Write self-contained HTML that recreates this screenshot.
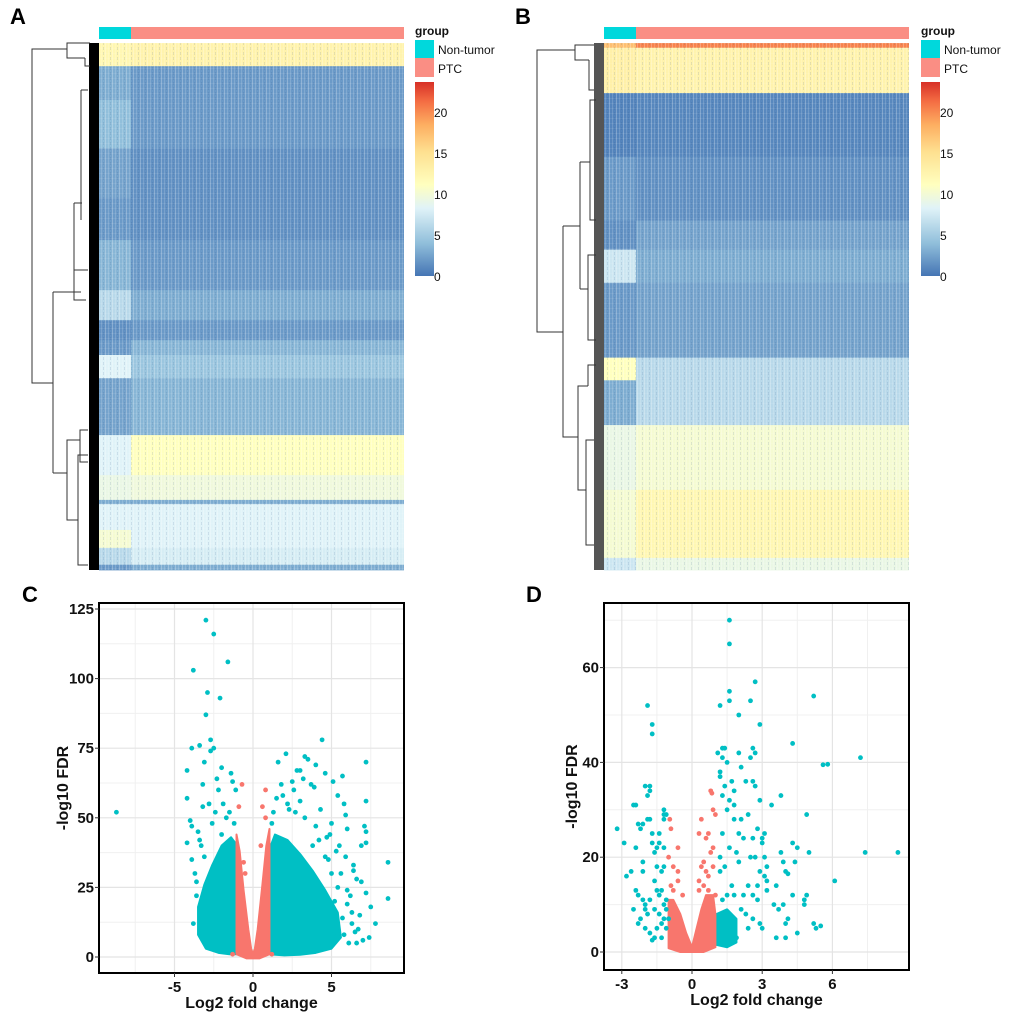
<!DOCTYPE html>
<html><head><meta charset="utf-8">
<style>
html,body{margin:0;padding:0;background:#fff;}
svg{display:block;font-family:"Liberation Sans",Arial,sans-serif;}
</style></head>
<body>
<svg id="fig" width="1020" height="1014" viewBox="0 0 1020 1014" xmlns="http://www.w3.org/2000/svg">
<defs>
<pattern id="tex" width="7" height="5" patternUnits="userSpaceOnUse">
<rect x="0" y="0" width="1" height="5" fill="#fff" opacity="0.25"/>
<rect x="3" y="0" width="1" height="5" fill="#fff" opacity="0.15"/>
<rect x="5" y="2" width="1" height="3" fill="#1a3f80" opacity="0.12"/>
<rect x="0" y="3" width="7" height="1" fill="#fff" opacity="0.08"/>
</pattern>
<linearGradient id="cbar" x1="0" y1="1" x2="0" y2="0">
<stop offset="0" stop-color="#4575b4"/>
<stop offset="0.17" stop-color="#91bfdb"/>
<stop offset="0.35" stop-color="#e0f3f8"/>
<stop offset="0.47" stop-color="#ffffbf"/>
<stop offset="0.64" stop-color="#fee090"/>
<stop offset="0.78" stop-color="#fdae61"/>
<stop offset="0.9" stop-color="#f46d43"/>
<stop offset="1" stop-color="#d73027"/>
</linearGradient>
</defs>
<g id="layer"></g>
</svg>
<script>
// ---------- Heatmap data (row bands, in % of gene rows) ----------
const heatA_bandEnds = [4.4,10.8,20,29.4,37.4,46.9,52.6,56.4,59.2,63.6,74.4,82,86.7,87.5,92.4,95.8,99,100];
const heatA_nonTumor = [12,3,4,2.5,2,3.5,6,1.5,2,8,2.5,8,9,3,8,10,6,2];
const heatA_ptc      = [12.5,2,2,1.5,1.5,2,3,2,3.5,4.5,3.5,11,9.5,3,8,8,7.5,3];
const heatB_bandEnds = [0.9,9.5,21.6,33.7,39.2,45.5,59.7,64,72.5,84.8,97.7,100];
const heatB_nonTumor = [17,13,0.8,2,1.5,7,2,11,3,9,10,7];
const heatB_ptc      = [20,12.5,1,1.5,2.5,3,2.5,6,6,10,12,9];
const colorbarTicks = [0,5,10,15,20];

// ---------- Volcano C ----------
const cTealX = [-3.0,-2.5,-1.6,-3.8,-2.9,-2.1,-3.0,-2.7,-3.4,-3.9,-2.5,-2.7,-3.1,-4.2,-2.0,-1.4,-2.3,-3.2,-1.3,-4.2,-3.2,-4.0,-3.9,-4.2,-3.9,-3.6,-8.7,-2.8,-1.1,-2.2,-3.5,-3.3,-2.4,-1.9,-1.7,-3.7,-3.4,-2.6,-1.5,-3.6,-3.8,-3.1,-2.0,-1.2,
 4.4,2.1,3.3,3.5,1.6,4.0,7.2,4.6,5.7,2.8,3.0,5.1,3.7,2.5,1.8,3.9,7.2,5.4,5.8,5.9,4.3,7.1,7.2,6.0,7.2,6.9,8.6,8.6,7.8,7.4,7.0,6.7,7.5,7.2,6.9,6.4,6.3,6.1,5.8,1.9,2.2,1.5,3.0,2.6,3.2,5.0,4.7,5.5,6.4,6.6,6.0,5.6,5.2,6.3,6.6,4.8,5.3,5.9,6.2,4.9,5.7,6.8,6.5,4.2,4.6,3.8,5.0,5.4,3.3,2.7,4.0,1.3,1.2,2.3,6.0,5.1,4.4];
const cTealY = [121,116,106,103,95,93,87,78,76,75,75,74,70,67,68,66,64,62,63,57,54,49,47,41,35,27,52,55,60,60,45,40,52,55,50,30,42,48,52,22,12,36,44,48,
 78,73,72,71,70,69,70,66,65,67,67,63,62,63,62,61,56,58,55,51,53,47,45,46,41,40,34,21,12,7,6,10,18,23,27,31,16,5,8,58,55,57,56,60,64,48,43,40,33,28,24,30,20,12,5,35,38,36,22,44,14,15,9,42,36,40,30,25,50,52,47,52,48,53,19,8,4];
const cRedX = [-0.7,-0.9,0.8,0.6,0.8,-0.6,-1.3,1.2,-0.5,0.5];
const cRedY = [62,54,60,54,50,34,1,1,30,40];
const cLeftCloudX = [-1.0,-1.0,-1.4,-2.0,-2.6,-3.1,-3.5,-3.5,-3.0,-2.2,-1.5];
const cLeftCloudY = [1,40,43,40,33,26,18,8,3,1.5,1];
const cRightCloudX = [1.0,1.0,1.4,2.2,3.0,3.8,4.6,5.4,5.6,5.0,4.0,3.0,2.0];
const cRightCloudY = [1,38,44,42,37,31,24,16,7,3,1.5,0.8,0.6];
const cVLeftX = [-1.05,-1.05,-0.85,-0.6,-0.3,-0.12,0.0,0.12,0.3,0.6,0.85,1.05,1.05,0.4,-0.4];
const cVLeftY = [1,44,38,24,10,3,1,3,10,26,40,46,1,-0.5,-0.5];

// ---------- Volcano D ----------
const dTealX = [1.6,1.6,2.7,1.6,1.6,2.5,1.2,5.2,-1.9,-1.7,-1.7,2.0,2.9,4.3,7.2,5.6,5.8,2.6,2.7,1.3,1.4,1.1,1.5,1.3,2.0,2.5,2.1,1.2,1.2,2.3,1.4,1.7,2.6,2.7,1.8,3.8,2.9,1.3,1.6,1.8,3.4,1.5,4.9,2.4,1.8,2.1,2.8,3.1,3.0,2.0,2.2,2.6,3.0,4.3,4.5,3.8,5.0,7.4,8.8,6.1,1.3,1.2,1.6,1.9,2.5,2.7,3.1,3.9,4.4,2.0,1.4,1.2,3.2,4.0,4.1,3.2,2.9,3.1,2.8,3.6,3.2,3.5,4.3,4.9,4.8,4.8,3.7,4.0,4.1,3.9,5.2,5.5,5.3,4.5,4.0,3.6,2.9,2.6,3.0,2.4,2.2,2.4,2.6,2.8,1.7,1.5,1.3,1.8,2.1,2.3,1.9,1.4,
 -3.2,-2.9,-2.4,-2.8,-2.6,-2.5,-2.4,-2.3,-2.2,-2.1,-2.0,-1.8,-1.9,-1.8,-1.8,-1.9,-2.1,-2.1,-1.7,-1.7,-1.6,-1.5,-1.2,-1.2,-1.1,-1.2,-1.4,-1.4,-1.2,-1.2,-1.5,-1.3,-1.6,-1.5,-1.3,-1.4,-2.4,-2.3,-2.1,-2.0,-1.8,-2.5,-2.0,-1.9,-2.2,-1.8,-1.5,-1.3,-1.2,-1.1,-1.2,-1.6,-2.3,-2.0,-1.1,-1.0,-1.4,-1.6,-1.1,-1.7,-1.3];
const dTealY = [70,65,57,55,53,53,52,54,52,48,46,50,48,44,41,39.5,39.6,43,42,43,43,42,40,41,42,41,39,38,37,36,35,36,36,35,34,33,32,33,32,31,31,30,29,29,28,28,26,25,24,25,24,24,23,23,22,21,21,21,21,15,25,20,22,21,20,20,20,19,19,19,18,17,18,17,16.5,15,17,16,14,14,13,10,12,12,11,10,9,6,7,10,6,5.5,5,4,3,3,6,7,5,5,12,14,12,11,14,12,11,12,9,8,3,2,
 26,23,22,16,17,31,31,27,26,27,35,35,33,34,28,28,19,17,25,23,21,22,30,29,29,28,25,23,22,18,18,17,15,13,13,12,13,12,11,10,11,9,9,8,7,4,5,6,7,9,10,3,6,5,5,7,8,9,11,2.5,3];
const dRedX = [-0.95,-0.9,0.8,0.85,0.4,0.9,1.0,0.3,0.7,0.6,-0.6,-1.0,-0.8,-0.6,-0.6,-0.8,0.8,0.9,0.5,0.4,0.6,0.7,0.3,0.9,0.3,0.5,0.7,-0.4,-0.9,1.0];
const dRedY = [28,26,34,33.5,28,30,29,25,25,24,22,20,18,17,15,13,21,22,19,18,17,16,15,18,13,14,13,12,14,12];
const dRedCloudX = [-1.0,-1.0,-0.8,-0.5,-0.25,0,0.2,0.4,0.6,0.9,1.0,1.0,0.5,-0.5];
const dRedCloudY = [0.8,11,11,8,4,1,5,9,12,12,8,1,0,0];
const dTealCloudX = [1.05,1.05,1.5,1.9,1.9,1.5];
const dTealCloudY = [1.5,8,9,7,2,1];

// ---------- helpers ----------
const NS = "http://www.w3.org/2000/svg";
const layer = document.getElementById('layer');
function mk(tag, attrs, parent){const e=document.createElementNS(NS,tag);for(const k in attrs)e.setAttribute(k,attrs[k]);(parent||layer).appendChild(e);return e;}
const cmapStops = [[0,[69,117,180]],[4,[145,191,219]],[8,[224,243,248]],[11,[255,255,191]],[15,[254,224,144]],[18,[253,174,97]],[21,[244,109,67]],[23.4,[215,48,39]]];
function cmap(v){for(let i=1;i<cmapStops.length;i++){if(v<=cmapStops[i][0]){const a=cmapStops[i-1],b=cmapStops[i];const t=(v-a[0])/(b[0]-a[0]);const c=a[1].map((x,j)=>Math.round(x+(b[1][j]-x)*t));return `rgb(${c})`;}}return 'rgb(215,48,39)';}

function heatmap(px, name, ends, nt, ptc, legendX, dendroColor){
  const x0=px, x1=px+305, ntEnd=px+32, y0=43, y1=570;
  const g=mk('g',{});
  
  
  const ys = r=>y0+(y1-y0)*r/100;
  let prev=0;
  for(let i=0;i<ends.length;i++){
    const a=ys(prev), b=ys(ends[i]);
    const c1=mk('rect',{x:x0,y:a,width:ntEnd-x0,height:b-a+0.4,fill:cmap(nt[i])},g);
    
    
    const c2=mk('rect',{x:ntEnd,y:a,width:x1-ntEnd,height:b-a+0.4,fill:cmap(ptc[i])},g);
    
    
    prev=ends[i];
  }
  mk('rect',{x:x0,y:y0,width:x1-x0,height:y1-y0,fill:'url(#tex)'},g);
  const an1=mk('rect',{x:x0,y:27,width:32,height:12,fill:'#00d8dc'});
  
  
  const an2=mk('rect',{x:ntEnd,y:27,width:x1-ntEnd,height:12,fill:'#fa8e84'});
  
  
  const dl=mk('rect',{x:x0-10,y:y0,width:10,height:y1-y0,fill:dendroColor});
  
  
  const lx=legendX;
  const gt=mk('text',{x:lx,y:35,'font-size':12,'font-weight':'bold',fill:'#111'});gt.textContent='group';
  
  
  const l1=mk('rect',{x:lx,y:40,width:19,height:18,fill:'#00d8dc'});
  
  
  const l2=mk('rect',{x:lx,y:58,width:19,height:19,fill:'#fa8e84'});
  
  
  const t1=mk('text',{x:lx+23,y:54,'font-size':12,fill:'#111'});t1.textContent='Non-tumor';
  
  
  const t2=mk('text',{x:lx+23,y:73,'font-size':12,fill:'#111'});t2.textContent='PTC';
  
  
  const cb=mk('rect',{x:lx,y:82,width:19,height:194,fill:'url(#cbar)'});
  
  
  colorbarTicks.forEach(v=>{
    const t=mk('text',{x:lx+19,y:276-v*8.2+5,'font-size':12,fill:'#111'});t.textContent=v;
    
    
  });
}
heatmap(99,'a',heatA_bandEnds,heatA_nonTumor,heatA_ptc,415,'#000');
heatmap(604,'b',heatB_bandEnds,heatB_nonTumor,heatB_ptc,921,'#555');

function dlines(list,color){list.forEach(p=>{const l=mk('path',{d:p,stroke:color,'stroke-width':1,fill:'none'});});}
dlines(['M67 49H32V383H53','M53 292V473','M53 292H81','M53 473H67','M67 49V43H90','M67 49V58H85','M85 58V66H90','M74 203H82','M74 203V270H88','M81 90V220','M81 90H88','M67 473V440H80','M67 473V520H78','M78 520V455H88','M78 520V565H88','M80 440V430H88','M80 440V462H88','M74 270V300H86'],'#333');
dlines(['M575 50H537V332H563','M575 50V45H594','M575 50V60H589','M589 60V90H594','M563 226H580','M563 226V437H578','M580 162V289','M580 162H590','M580 289H588','M578 437V386H588','M578 437V490H586','M590 162V100H596','M590 162V220H596','M588 289V255H596','M588 289V340H596','M588 386V365H596','M586 490V440H594','M586 490V545H594'],'#333');

[['A',10,24],['B',515,24],['C',22,602],['D',526,602]].forEach(([s,x,y])=>{const t=mk('text',{x:x,y:y,'font-size':22,'font-weight':'bold',fill:'#000'});t.textContent=s;});

function volcano(o){
  const g=mk('g',{});
  
  
  const sx=v=>o.x0px+v*o.kx, sy=v=>o.y0px-v*o.ky;
  mk('rect',{x:o.L,y:o.T,width:o.R-o.L,height:o.B-o.T,fill:'#fff'},g);
  o.xminor.forEach(v=>mk('line',{x1:sx(v),x2:sx(v),y1:o.T,y2:o.B,stroke:'#f0f0f0','stroke-width':1},g));
  o.yminor.forEach(v=>mk('line',{y1:sy(v),y2:sy(v),x1:o.L,x2:o.R,stroke:'#f0f0f0','stroke-width':1},g));
  o.xticks.forEach(v=>mk('line',{x1:sx(v),x2:sx(v),y1:o.T,y2:o.B,stroke:'#e4e4e4','stroke-width':1.2},g));
  o.yticks.forEach(v=>mk('line',{y1:sy(v),y2:sy(v),x1:o.L,x2:o.R,stroke:'#e4e4e4','stroke-width':1.2},g));
  const poly=(xs,ys,col)=>{const p=mk('polygon',{points:xs.map((x,i)=>sx(x)+','+sy(ys[i])).join(' '),fill:col,stroke:col,'stroke-width':2,'stroke-linejoin':'round'},g);};
  o.clouds.forEach(c=>poly(c[0],c[1],c[2]));
  const pts=(xs,ys,col,nm)=>xs.forEach((x,i)=>{const c=mk('circle',{cx:sx(x),cy:sy(ys[i]),r:2.4,fill:col},g);});
  pts(o.tx,o.ty,'#00bfc4','point-significant');
  pts(o.rx,o.ry,'#f8766d','point-not-significant');
  const fr=mk('rect',{x:o.L,y:o.T,width:o.R-o.L,height:o.B-o.T,fill:'none',stroke:'#000','stroke-width':2},g);
  
  
  o.xticks.forEach(v=>{mk('line',{x1:sx(v),x2:sx(v),y1:o.B,y2:o.B+4,stroke:'#333'},g);const t=mk('text',{x:sx(v),y:o.B+19,'font-size':15,'font-weight':'bold','text-anchor':'middle',fill:'#111'},g);t.textContent=v;});
  o.yticks.forEach(v=>{mk('line',{x1:o.L-4,x2:o.L,y1:sy(v),y2:sy(v),stroke:'#333'},g);const t=mk('text',{x:o.L-5,y:sy(v)+5,'font-size':15,'font-weight':'bold','text-anchor':'end',fill:'#111'},g);t.textContent=v;});
  const xt=mk('text',{x:(o.L+o.R)/2,y:o.B+35,'font-size':16,'font-weight':'bold','text-anchor':'middle',fill:'#111'},g);xt.textContent='Log2 fold change';
  
  
  const cy=(o.T+o.B)/2;
  const yt=mk('text',{x:o.ytx,y:cy,'font-size':16,'font-weight':'bold','text-anchor':'middle',fill:'#111',transform:`rotate(-90 ${o.ytx} ${cy})`},g);yt.textContent='-log10 FDR';
  
  
}
volcano({name:'volcano-c',L:99,R:404,T:603,B:973,x0px:253,kx:15.7,y0px:957,ky:2.784,
  xticks:[-5,0,5],xminor:[-7.5,-2.5,2.5,7.5],yticks:[0,25,50,75,100,125],yminor:[12.5,37.5,62.5,87.5,112.5],
  clouds:[[cLeftCloudX,cLeftCloudY,'#00bfc4'],[cRightCloudX,cRightCloudY,'#00bfc4'],[cVLeftX,cVLeftY,'#f8766d']],
  tx:cTealX,ty:cTealY,rx:cRedX,ry:cRedY,ytx:68});
volcano({name:'volcano-d',L:604,R:909,T:603,B:970,x0px:692,kx:23.4,y0px:952,ky:4.74,
  xticks:[-3,0,3,6],xminor:[-1.5,1.5,4.5,7.5],yticks:[0,20,40,60],yminor:[10,30,50,70],
  clouds:[[dTealCloudX,dTealCloudY,'#00bfc4'],[dRedCloudX,dRedCloudY,'#f8766d']],
  tx:dTealX,ty:dTealY,rx:dRedX,ry:dRedY,ytx:577});
</script>
</body></html>
